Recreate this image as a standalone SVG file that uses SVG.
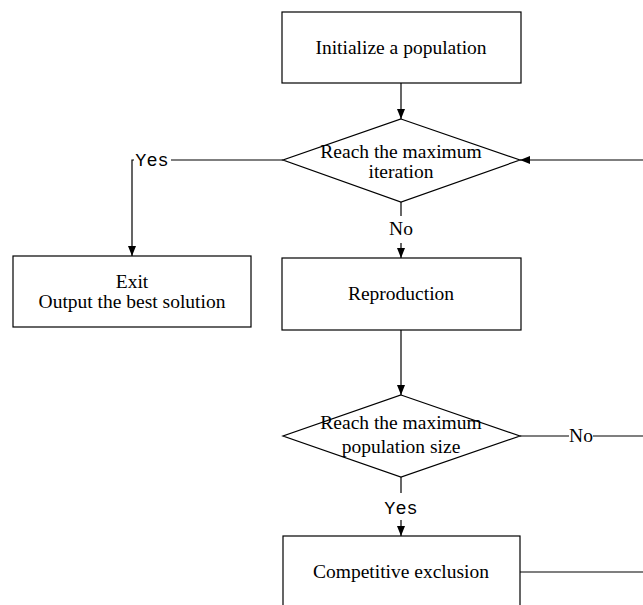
<svg xmlns="http://www.w3.org/2000/svg" width="643" height="605" viewBox="0 0 643 605">
<style>
.box{fill:#fff;stroke:#000;stroke-width:1.2}
.ln{fill:none;stroke:#000;stroke-width:1.2}
.t{font-family:"Liberation Serif","Times New Roman",serif;font-size:19.5px;fill:#000;text-anchor:middle}
.m{font-family:"Liberation Mono","Courier New",monospace;font-size:18.5px;fill:#000;text-anchor:middle}
</style>
<defs>
<marker id="ah" viewBox="0 0 10 10" refX="10" refY="5" markerWidth="10" markerHeight="10" markerUnits="userSpaceOnUse" orient="auto">
<path d="M0,1 L10,5 L0,9 Z" fill="#000"/>
</marker>
</defs>
<rect width="643" height="605" fill="#fff"/>
<g id="connectors">
<line class="ln" x1="401" y1="83" x2="401" y2="119" marker-end="url(#ah)"/>
<polyline class="ln" points="283,160 171,160"/>
<polyline class="ln" points="134,160 132,160 132,256" marker-end="url(#ah)"/>
<line class="ln" x1="401" y1="202" x2="401" y2="216"/>
<line class="ln" x1="401" y1="243" x2="401" y2="258" marker-end="url(#ah)"/>
<line class="ln" x1="401" y1="330" x2="401" y2="395" marker-end="url(#ah)"/>
<line class="ln" x1="520" y1="436" x2="569" y2="436"/>
<line class="ln" x1="593" y1="436" x2="643" y2="436"/>
<line class="ln" x1="401" y1="477" x2="401" y2="493"/>
<line class="ln" x1="401" y1="520" x2="401" y2="536" marker-end="url(#ah)"/>
<line class="ln" x1="520" y1="572" x2="643" y2="572"/>
<line class="ln" x1="643" y1="160" x2="520" y2="160" marker-end="url(#ah)"/>
<text class="m" x="152" y="166">Yes</text>
<text class="t" x="401" y="235">No</text>
<text class="t" x="581" y="442">No</text>
<text class="m" x="401" y="514">Yes</text>
</g>
<g id="init">
<rect class="box" x="282" y="12" width="239" height="71"/>
<text class="t" x="401" y="54">Initialize a population</text>
</g>
<g id="check-iter">
<polygon class="box" points="401,119 520,160 401,202 283,160"/>
<text class="t" x="401" y="158">Reach the maximum</text>
<text class="t" x="401" y="178">iteration</text>
</g>
<g id="exit">
<rect class="box" x="13" y="256" width="238" height="71"/>
<text class="t" x="132" y="288">Exit</text>
<text class="t" x="132" y="308">Output the best solution</text>
</g>
<g id="reproduction">
<rect class="box" x="282" y="258" width="239" height="72"/>
<text class="t" x="401" y="300">Reproduction</text>
</g>
<g id="check-size">
<polygon class="box" points="401,395 520,436 401,477 283,436"/>
<text class="t" x="401" y="429">Reach the maximum</text>
<text class="t" x="401" y="453">population size</text>
</g>
<g id="exclusion">
<rect class="box" x="283" y="536" width="237" height="80"/>
<text class="t" x="401" y="578">Competitive exclusion</text>
</g>
</svg>
